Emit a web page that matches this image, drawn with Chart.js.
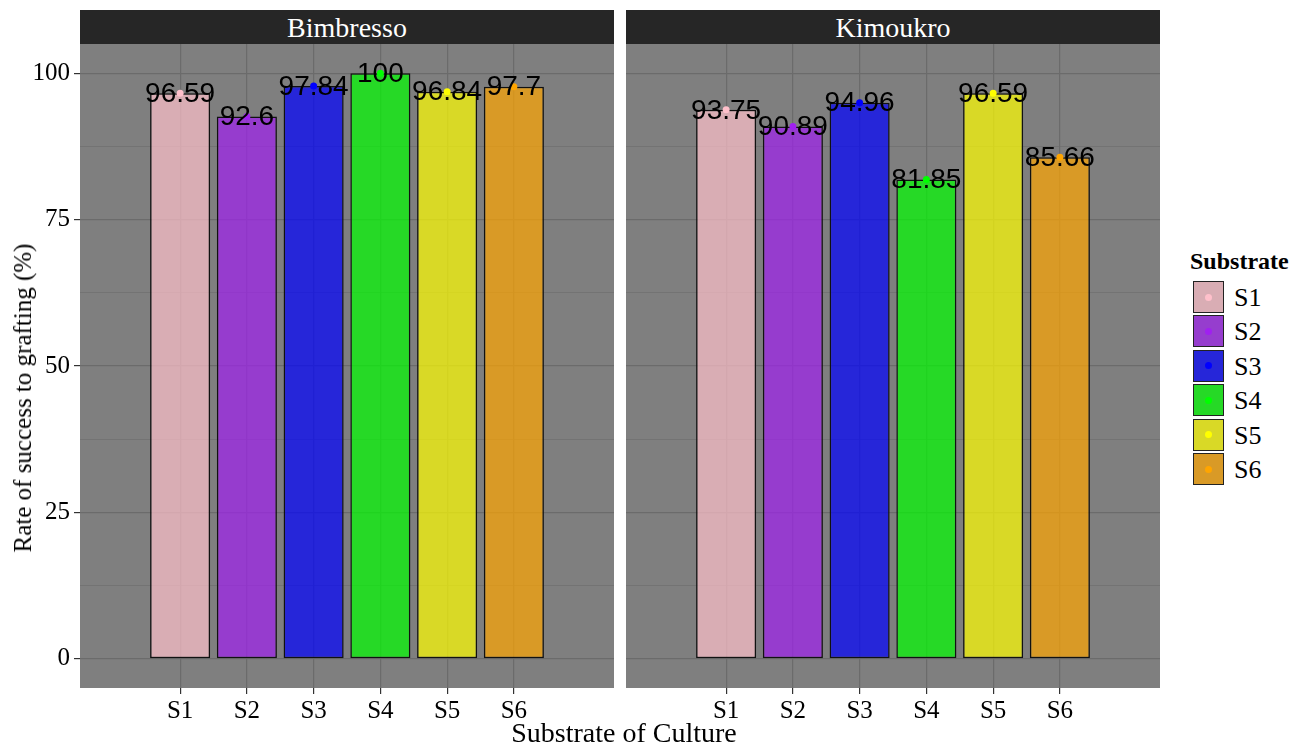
<!DOCTYPE html>
<html>
<head>
<meta charset="utf-8">
<script src="https://cdn.jsdelivr.net/npm/chart.js@4.4.1/dist/chart.umd.min.js"></script>
<style>
  html, body { margin: 0; padding: 0; background: #ffffff; }
  #fig { position: relative; width: 1305px; height: 745px; overflow: hidden; font-family: "Liberation Serif", "DejaVu Serif", serif; }
  .panel { position: absolute; top: 44px; height: 701px; }
  .strip { position: absolute; top: 10px; height: 34px; background: #262626; color: #ffffff; font-size: 28px; line-height: 35px; text-align: center; }
  .title { position: absolute; font-size: 25px; color: #000; white-space: nowrap; }
  .key { position: absolute; left: 1193px; width: 29px; height: 30px; border: 1.5px solid #222; }
  .key span { position: absolute; left: 50%; top: 50%; width: 7px; height: 7px; margin: -3.5px 0 0 -3.5px; border-radius: 50%; }
  .klab { position: absolute; left: 1234px; font-size: 26px; line-height: 33px; }
</style>
</head>
<body>
<div id="fig">
  <div class="strip" style="left:80px;width:534px;" id="strip0"></div>
  <div class="strip" style="left:626px;width:534px;" id="strip1"></div>
  <div class="panel" style="left:0;width:614px;"><canvas id="chartA"></canvas></div>
  <div class="panel" style="left:626px;width:534px;"><canvas id="chartB"></canvas></div>
  <div class="title" style="left:624px;top:733px;font-size:28px;transform:translate(-50%,-50%);">Substrate of Culture</div>
  <div class="title" style="left:23px;top:398px;transform:translate(-50%,-50%) rotate(-90deg);">Rate of success to grafting (%)</div>
  <div class="title" style="left:1190px;top:248px;font-weight:bold;font-size:24px;">Substrate</div>
  <div id="legend"></div>
</div>
<script>
// données
const sites = ['Bimbresso', 'Kimoukro'];
const categories = ['S1', 'S2', 'S3', 'S4', 'S5', 'S6'];
const bimbresso = [96.59, 92.6, 97.84, 100, 96.84, 97.7];
const kimoukro = [93.75, 90.89, 94.96, 81.85, 96.59, 85.66];
const majorTicks = [0, 25, 50, 75, 100];
const minorTicks = [12.5, 37.5, 62.5, 87.5];

// couleurs : point plein, remplissage à 70 %
const pointRGB = [[255, 192, 203], [160, 32, 240], [0, 0, 255], [0, 255, 0], [255, 255, 0], [255, 165, 0]];
const alpha = 0.7;
const pointColors = pointRGB.map(c => `rgb(${c.join(',')})`);
const fillColors = pointRGB.map(c => `rgba(${c.join(',')},${alpha})`);
// pour la légende : même couleur vue sur le fond gris
const keyColors = pointRGB.map(c => `rgb(${c.map(v => Math.round(127 + alpha * (v - 127))).join(',')})`);

// catégories vides aux extrémités (comme sur l'original)
const xLabels = ['', ...categories, ''];
const pad = arr => [null, ...arr, null];

const panelBg = {
    id: 'panelBg',
    beforeDraw(chart) {
        const a = chart.chartArea, c = chart.ctx;
        c.save();
        c.fillStyle = '#7f7f7f';
        c.fillRect(a.left, a.top, a.right - a.left, a.bottom - a.top);
        c.restore();
    }
};

const valueLabels = {
    id: 'valueLabels',
    afterDatasetsDraw(chart) {
        const c = chart.ctx;
        const meta = chart.getDatasetMeta(1);
        const data = chart.data.datasets[1].data;
        c.save();
        c.font = '28px "Liberation Sans", Arial, sans-serif';
        c.fillStyle = '#000';
        c.textAlign = 'center';
        c.textBaseline = 'middle';
        meta.data.forEach((bar, i) => {
            if (data[i] == null) return;
            c.fillText(String(data[i]), bar.x, bar.y + 1);
        });
        c.restore();
    }
};

function makeChart(id, values, showY) {
    const allTicks = [...majorTicks, ...minorTicks].sort((a, b) => a - b);
    const edge = i => i === 0 || i === xLabels.length - 1;
    return new Chart(document.getElementById(id), {
        type: 'bar',
        data: {
            labels: xLabels,
            datasets: [
                {
                    type: 'line',
                    data: pad(values),
                    showLine: false,
                    pointRadius: 3.5,
                    pointHoverRadius: 3.5,
                    pointBorderWidth: 0,
                    pointBackgroundColor: pad(pointColors),
                    order: 1
                },
                {
                    data: pad(values),
                    backgroundColor: pad(fillColors),
                    borderColor: '#111',
                    borderWidth: 1.5,
                    borderSkipped: false,
                    barPercentage: 0.9,
                    categoryPercentage: 1,
                    order: 2
                }
            ]
        },
        options: {
            responsive: true,
            maintainAspectRatio: false,
            animation: false,
            layout: { padding: 0, autoPadding: false },
            plugins: { legend: { display: false }, tooltip: { enabled: false } },
            scales: {
                x: {
                    offset: true,
                    border: { display: false },
                    grid: {
                        offset: false,
                        lineWidth: 1.2,
                        color: ctx => edge(ctx.index) ? 'rgba(0,0,0,0)' : '#6b6b6b',
                        tickColor: ctx => edge(ctx.index) ? 'rgba(0,0,0,0)' : '#333',
                        tickLength: 6
                    },
                    ticks: {
                        color: '#000',
                        padding: 2,
                        maxRotation: 0,
                        autoSkip: false,
                        font: { family: '"Liberation Serif", serif', size: 25 }
                    },
                    afterFit: s => { s.height = 57; s.paddingLeft = 0; s.paddingRight = 0; }
                },
                y: {
                    min: -5,
                    max: 105,
                    border: { display: false },
                    afterBuildTicks: s => { s.ticks = allTicks.map(v => ({ value: v })); },
                    grid: {
                        color: '#6b6b6b',
                        lineWidth: ctx => majorTicks.includes(ctx.tick.value) ? 1.2 : 0.6,
                        drawTicks: showY,
                        tickColor: ctx => majorTicks.includes(ctx.tick.value) ? '#333' : 'rgba(0,0,0,0)',
                        tickLength: 6
                    },
                    ticks: {
                        display: showY,
                        color: '#000',
                        padding: 4,
                        font: { family: '"Liberation Serif", serif', size: 25 },
                        callback: v => majorTicks.includes(v) ? String(v) : ''
                    },
                    afterFit: s => { s.width = showY ? 80 : 0; s.paddingTop = 0; s.paddingBottom = 0; }
                }
            }
        },
        plugins: [panelBg, valueLabels]
    });
}

document.getElementById('strip0').textContent = sites[0];
document.getElementById('strip1').textContent = sites[1];

makeChart('chartA', bimbresso, true);
makeChart('chartB', kimoukro, false);

// légende
const leg = document.getElementById('legend');
categories.forEach((cat, i) => {
    const top = 281 + i * 34.4;
    const k = document.createElement('div');
    k.className = 'key';
    k.style.top = top + 'px';
    k.style.background = keyColors[i];
    const dot = document.createElement('span');
    dot.style.background = pointColors[i];
    k.appendChild(dot);
    leg.appendChild(k);
    const l = document.createElement('div');
    l.className = 'klab';
    l.style.top = top + 'px';
    l.textContent = cat;
    leg.appendChild(l);
});
</script>
</body>
</html>
